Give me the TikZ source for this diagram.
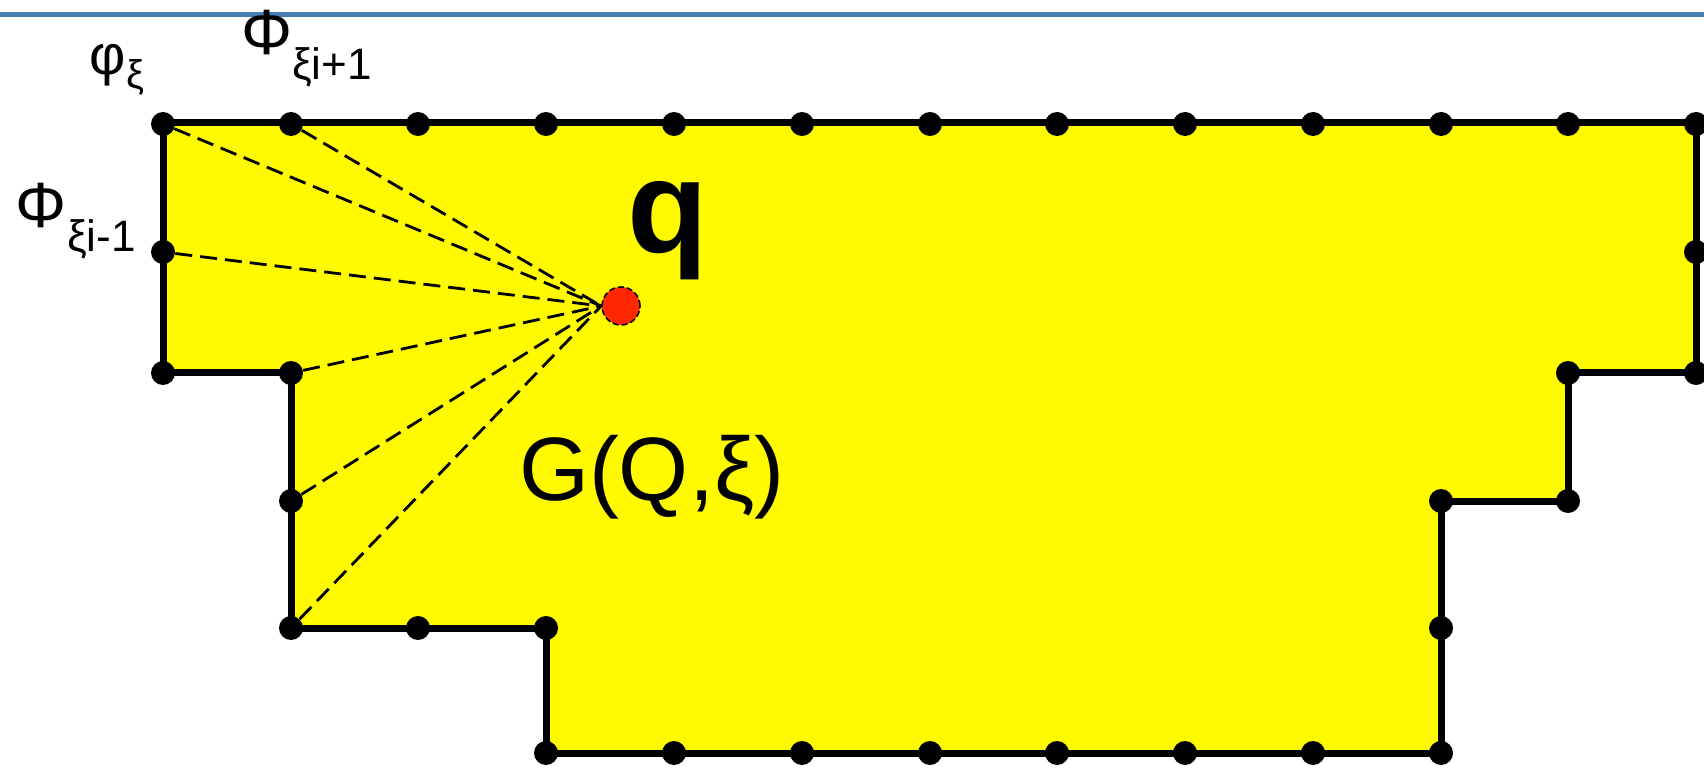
\documentclass[tikz,border=0pt]{standalone}
\usepackage{fontspec}
\setmainfont{Liberation Sans}
\begin{document}
\begin{tikzpicture}[x=.5pt,y=-.5pt,
  gdot/.style={circle,fill=black,draw=none,inner sep=0pt,minimum size=12pt},
  ray/.style={draw=black,line width=1.4pt,dash pattern=on 8.5pt off 4pt},
  lbl/.style={inner sep=0pt,outer sep=0pt,anchor=base west,text=black}]
\path[use as bounding box] (0,0) rectangle (1704,770);
\path[fill=white,draw=none] (0,0) rectangle (1704,770);
\draw[draw={rgb,255:red,70;green,125;blue,180},line width=2.5pt] (0,15) -- (1704,15);
% region G
\path[fill={rgb,255:red,255;green,250;blue,0},draw=black,line width=3.5pt] (163,123) -- (1696,123) -- (1696,373) -- (1568,373) -- (1568,501) -- (1441,501) -- (1441,753) -- (546,753) -- (546,628) -- (291,628) -- (291,373) -- (163,373) -- cycle;
% boundary points
\node[gdot] (t0) at (163,124) {};
\node[gdot] (t1) at (291,124) {};
\node[gdot] (t2) at (418,124) {};
\node[gdot] (t3) at (546,124) {};
\node[gdot] (t4) at (674,124) {};
\node[gdot] (t5) at (802,124) {};
\node[gdot] (t6) at (930,124) {};
\node[gdot] (t7) at (1057,124) {};
\node[gdot] (t8) at (1185,124) {};
\node[gdot] (t9) at (1313,124) {};
\node[gdot] (t10) at (1441,124) {};
\node[gdot] (t11) at (1568,124) {};
\node[gdot] (t12) at (1696,124) {};
\node[gdot] (r1) at (1696,252) {};
\node[gdot] (r2) at (1696,373) {};
\node[gdot] (s1) at (1568,373) {};
\node[gdot] (s2) at (1568,501) {};
\node[gdot] (s3) at (1441,501) {};
\node[gdot] (s4) at (1441,628) {};
\node[gdot] (b10) at (1441,753) {};
\node[gdot] (b9) at (1313,753) {};
\node[gdot] (b8) at (1185,753) {};
\node[gdot] (b7) at (1057,753) {};
\node[gdot] (b6) at (930,753) {};
\node[gdot] (b5) at (802,753) {};
\node[gdot] (b4) at (674,753) {};
\node[gdot] (b3) at (546,753) {};
\node[gdot] (l3) at (546,628) {};
\node[gdot] (l2) at (418,628) {};
\node[gdot] (l1) at (291,628) {};
\node[gdot] (k3) at (291,501) {};
\node[gdot] (k2) at (291,373) {};
\node[gdot] (h2) at (163,373) {};
\node[gdot] (h1) at (163,252) {};
% source point q
\node[circle,fill={rgb,255:red,255;green,38;blue,0},draw=black,line width=0.8pt,dash pattern=on 3pt off 1.5pt,inner sep=0pt,minimum size=19pt] (q) at (621,306) {};
\draw[ray] (t0) -- (q.west);
\draw[ray] (t1) -- (q.west);
\draw[ray] (h1) -- (q.west);
\draw[ray] (k2) -- (q.west);
\draw[ray] (k3) -- (q.west);
\draw[ray] (l1) -- (q.west);
% labels
\node[lbl,font=\bfseries\fontsize{66}{78}\selectfont] (qlbl) at (627,253) {q};
\node[lbl,font=\fontsize{45}{54}\selectfont] (glbl) at (519,500) {G(Q,ξ)};
\node[lbl,font=\fontsize{28}{34}\selectfont] (philbl) at (90,75) {φ\raisebox{-7pt}{\fontsize{20}{24}\selectfont ξ}};
\node[lbl,font=\fontsize{32}{38}\selectfont] (nextlbl) at (241,55) {Φ\raisebox{-12.5pt}{\fontsize{22}{26}\selectfont ξi+1}};
\node[lbl,font=\fontsize{32}{38}\selectfont] (prevlbl) at (16,228) {Φ\raisebox{-12pt}{\fontsize{22}{26}\selectfont ξi-1}};
\end{tikzpicture}
\end{document}
